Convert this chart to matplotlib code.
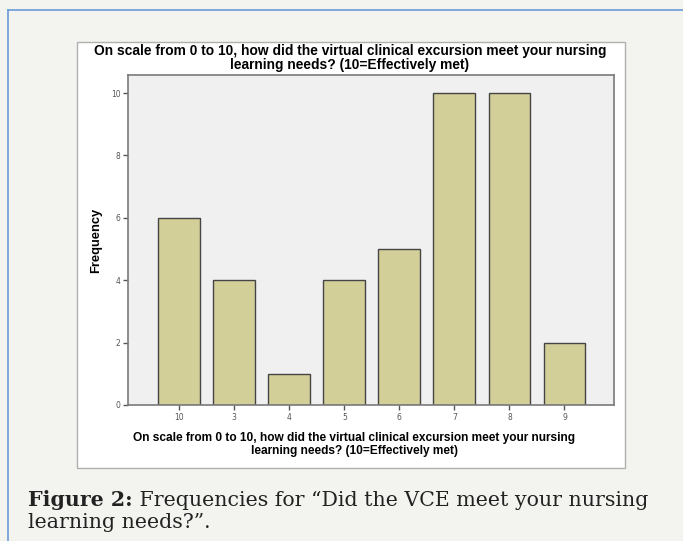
import matplotlib
matplotlib.use("Agg")
import matplotlib.pyplot as plt
from matplotlib.patches import Rectangle
from matplotlib.lines import Line2D

categories = ["10", "3", "4", "5", "6", "7", "8", "9"]
frequencies = [6, 4, 1, 4, 5, 10, 10, 2]
y_ticks = [0, 2, 4, 6, 8, 10]
title_text = "On scale from 0 to 10, how did the virtual clinical excursion meet your nursing\nlearning needs? (10=Effectively met)"
caption_bold = "Figure 2:"
caption_rest = " Frequencies for \u201cDid the VCE meet your nursing"
caption_line2 = "learning needs?\u201d."

W, H = 683, 541
fig = plt.figure(figsize=(W / 100, H / 100), dpi=100)
fig.patch.set_facecolor("#f3f3ef")

def fx(px):
    return px / W

def fy(py):
    return 1 - py / H

# page border lines (blue)
fig.add_artist(Line2D([fx(8), fx(8)], [fy(10), fy(541)], color="#6a9ad8", lw=1.2, zorder=-5))
fig.add_artist(Line2D([fx(8), fx(683)], [fy(10), fy(10)], color="#6a9ad8", lw=1.2, zorder=-5))

# white chart box
fig.add_artist(Rectangle((fx(77), fy(468)), fx(625) - fx(77), fy(42) - fy(468),
                         facecolor="white", edgecolor="#b0b0b0", lw=1.0, zorder=-5))

ax = fig.add_axes([fx(128), fy(405), fx(614) - fx(128), fy(75) - fy(405)])
ax.set_facecolor("#f0f0f0")
x = list(range(len(categories)))
ax.bar(x, frequencies, width=0.76, color="#d3cf98", edgecolor="#454545", linewidth=1.0, zorder=2)
ax.set_xlim(-0.93, 7.9)
ax.set_ylim(0, 10.58)
ax.set_xticks(x)
ax.set_xticklabels(categories)
ax.set_yticks(y_ticks)
ax.tick_params(axis="both", labelsize=5.5, labelcolor="#555555", color="#555555",
               length=3.5, width=1.0, direction="out", pad=2)
for s in ax.spines.values():
    s.set_color("#7a7a7a")
    s.set_linewidth(1.2)

fig.text(fx(350), fy(58), title_text, ha="center", va="center", linespacing=0.95,
         family="Liberation Sans", weight="bold", size=9.9)
fig.text(fx(96), fy(240), "Frequency", rotation=90, ha="center", va="center",
         family="Liberation Sans", weight="bold", size=9.3)
fig.text(fx(354.5), fy(444.5), title_text, ha="center", va="center", linespacing=1.2,
         family="Liberation Sans", weight="bold", size=8.6)

# caption
t1 = fig.text(fx(28), fy(500), caption_bold, ha="left", va="center", color="#222222",
              family="DejaVu Serif", weight="bold", size=14.8)
fig.canvas.draw()
bb = t1.get_window_extent()
fig.text(bb.x1 / W, fy(500), caption_rest, ha="left", va="center", color="#222222",
         family="DejaVu Serif", size=14.8)
fig.text(fx(28), fy(523), caption_line2, ha="left", va="center", color="#222222",
         family="DejaVu Serif", size=14.8)

fig.savefig("out.png", dpi=100, facecolor=fig.get_facecolor())
